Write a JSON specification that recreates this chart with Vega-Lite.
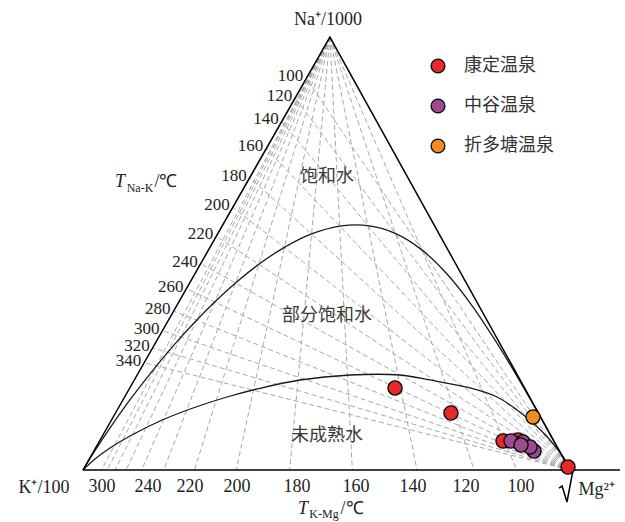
{
  "$schema": "https://vega.github.io/schema/vega-lite/v6.json",
  "width": 625,
  "height": 522,
  "padding": 0,
  "autosize": {"type": "none"},
  "background": "white",
  "config": {"view": {"stroke": null}},
  "datasets": {
    "edges": [
      {"g": "tri", "i": 0, "x": 0, "y": 0},
      {"g": "tri", "i": 1, "x": 50.7, "y": 100},
      {"g": "tri", "i": 2, "x": 100, "y": 0},
      {"g": "base", "i": 0, "x": 0, "y": 0},
      {"g": "base", "i": 1, "x": 110.27, "y": 0},
      {"g": "rad", "i": 0, "x": 97.74, "y": -4.16},
      {"g": "rad", "i": 1, "x": 98.36, "y": -3.7},
      {"g": "rad", "i": 2, "x": 99.38, "y": -7.39},
      {"g": "rad", "i": 3, "x": 100.62, "y": 0}
    ],
    "grid": [
      {"x": 100, "y": 0, "x2": 45.86, "y2": 90.45},
      {"x": 100, "y": 0, "x2": 43.58, "y2": 85.96},
      {"x": 100, "y": 0, "x2": 40.81, "y2": 80.5},
      {"x": 100, "y": 0, "x2": 37.65, "y2": 74.27},
      {"x": 100, "y": 0, "x2": 34.25, "y2": 67.55},
      {"x": 100, "y": 0, "x2": 30.77, "y2": 60.69},
      {"x": 100, "y": 0, "x2": 27.37, "y2": 53.99},
      {"x": 100, "y": 0, "x2": 24.17, "y2": 47.67},
      {"x": 100, "y": 0, "x2": 21.24, "y2": 41.89},
      {"x": 100, "y": 0, "x2": 18.61, "y2": 36.71},
      {"x": 100, "y": 0, "x2": 16.31, "y2": 32.16},
      {"x": 100, "y": 0, "x2": 14.3, "y2": 28.2},
      {"x": 100, "y": 0, "x2": 12.56, "y2": 24.77},
      {"x": 50.7, "y": 100, "x2": 89.08, "y2": 0},
      {"x": 50.7, "y": 100, "x2": 80.32, "y2": 0},
      {"x": 50.7, "y": 100, "x2": 68.58, "y2": 0},
      {"x": 50.7, "y": 100, "x2": 55.3, "y2": 0},
      {"x": 50.7, "y": 100, "x2": 42.43, "y2": 0},
      {"x": 50.7, "y": 100, "x2": 31.46, "y2": 0},
      {"x": 50.7, "y": 100, "x2": 22.89, "y2": 0},
      {"x": 50.7, "y": 100, "x2": 16.58, "y2": 0},
      {"x": 50.7, "y": 100, "x2": 12.05, "y2": 0},
      {"x": 50.7, "y": 100, "x2": 8.85, "y2": 0},
      {"x": 50.7, "y": 100, "x2": 6.59, "y2": 0},
      {"x": 50.7, "y": 100, "x2": 4.97, "y2": 0},
      {"x": 50.7, "y": 100, "x2": 3.8, "y2": 0}
    ],
    "curves": [
      {"g": "full", "i": 0, "x": 0, "y": 0},
      {"g": "full", "i": 1, "x": 2.49, "y": 4.55},
      {"g": "full", "i": 2, "x": 5.7, "y": 9.98},
      {"g": "full", "i": 3, "x": 10.09, "y": 16.87},
      {"g": "full", "i": 4, "x": 15.09, "y": 24.06},
      {"g": "full", "i": 5, "x": 17.39, "y": 27.17},
      {"g": "full", "i": 6, "x": 20.12, "y": 30.69},
      {"g": "full", "i": 7, "x": 23.33, "y": 34.59},
      {"g": "full", "i": 8, "x": 27.05, "y": 38.8},
      {"g": "full", "i": 9, "x": 31.32, "y": 43.19},
      {"g": "full", "i": 10, "x": 36.1, "y": 47.51},
      {"g": "full", "i": 11, "x": 41.35, "y": 51.42},
      {"g": "full", "i": 12, "x": 46.94, "y": 54.52},
      {"g": "full", "i": 13, "x": 52.72, "y": 56.33},
      {"g": "full", "i": 14, "x": 58.48, "y": 56.46},
      {"g": "full", "i": 15, "x": 64.12, "y": 54.66},
      {"g": "full", "i": 16, "x": 69.57, "y": 50.84},
      {"g": "full", "i": 17, "x": 74.75, "y": 45.26},
      {"g": "full", "i": 18, "x": 79.69, "y": 38.27},
      {"g": "full", "i": 19, "x": 84.32, "y": 30.5},
      {"g": "full", "i": 20, "x": 88.59, "y": 22.67},
      {"g": "full", "i": 21, "x": 92.27, "y": 15.52},
      {"g": "full", "i": 22, "x": 96.2, "y": 7.6},
      {"g": "full", "i": 23, "x": 100, "y": 0},
      {"g": "part", "i": 0, "x": 0, "y": 0},
      {"g": "part", "i": 1, "x": 2.46, "y": 2.54},
      {"g": "part", "i": 2, "x": 5.54, "y": 5.08},
      {"g": "part", "i": 3, "x": 9.65, "y": 7.85},
      {"g": "part", "i": 4, "x": 15.81, "y": 11.32},
      {"g": "part", "i": 5, "x": 22.59, "y": 14.32},
      {"g": "part", "i": 6, "x": 29.57, "y": 16.86},
      {"g": "part", "i": 7, "x": 35.73, "y": 18.71},
      {"g": "part", "i": 8, "x": 44.56, "y": 20.79},
      {"g": "part", "i": 9, "x": 54.83, "y": 21.94},
      {"g": "part", "i": 10, "x": 65.09, "y": 21.94},
      {"g": "part", "i": 11, "x": 71.25, "y": 20.79},
      {"g": "part", "i": 12, "x": 79.47, "y": 18.94},
      {"g": "part", "i": 13, "x": 85.01, "y": 16.86},
      {"g": "part", "i": 14, "x": 89.12, "y": 13.86},
      {"g": "part", "i": 15, "x": 92.4, "y": 10.85},
      {"g": "part", "i": 16, "x": 95.89, "y": 6.93},
      {"g": "part", "i": 17, "x": 99.38, "y": 1.62},
      {"g": "part", "i": 18, "x": 100, "y": 0}
    ],
    "points": [
      {"site": "康定温泉", "x": 89.32, "y": 6.93},
      {"site": "康定温泉", "x": 64.07, "y": 18.94},
      {"site": "康定温泉", "x": 75.56, "y": 13.16},
      {"site": "康定温泉", "x": 86.24, "y": 6.7},
      {"site": "康定温泉", "x": 99.59, "y": 0.69},
      {"site": "中谷温泉", "x": 87.89, "y": 6.7},
      {"site": "中谷温泉", "x": 90.35, "y": 6.47},
      {"site": "中谷温泉", "x": 92.61, "y": 4.39},
      {"site": "中谷温泉", "x": 91.79, "y": 5.31},
      {"site": "中谷温泉", "x": 89.94, "y": 5.77},
      {"site": "折多塘温泉", "x": 92.4, "y": 12.24}
    ],
    "leftTicks": [
      {"t": "100", "x": 45.86, "y": 90.45},
      {"t": "120", "x": 43.58, "y": 85.96},
      {"t": "140", "x": 40.81, "y": 80.5},
      {"t": "160", "x": 37.65, "y": 74.27},
      {"t": "180", "x": 34.25, "y": 67.55},
      {"t": "200", "x": 30.77, "y": 60.69},
      {"t": "220", "x": 27.37, "y": 53.99},
      {"t": "240", "x": 24.17, "y": 47.67},
      {"t": "260", "x": 21.24, "y": 41.89},
      {"t": "280", "x": 18.61, "y": 36.71},
      {"t": "300", "x": 16.31, "y": 32.16},
      {"t": "320", "x": 14.3, "y": 28.2},
      {"t": "340", "x": 12.56, "y": 24.77}
    ],
    "bottomTicks": [
      {"t": "300", "x": 3.9, "y": -3.93},
      {"t": "240", "x": 13.35, "y": -3.93},
      {"t": "220", "x": 21.97, "y": -3.93},
      {"t": "200", "x": 31.62, "y": -3.93},
      {"t": "180", "x": 43.94, "y": -3.93},
      {"t": "160", "x": 56.06, "y": -3.93},
      {"t": "140", "x": 67.76, "y": -3.93},
      {"t": "120", "x": 78.64, "y": -3.93},
      {"t": "100", "x": 89.94, "y": -3.93}
    ],
    "corners": [
      {"t": "Na⁺/1000", "x": 50.31, "y": 103.93},
      {"t": "K⁺/100", "x": -8.01, "y": -4.16},
      {"t": "Mg²⁺", "x": 105.5, "y": -4.62}
    ],
    "regions": [
      {"t": "饱和水", "x": 50.1, "y": 67.67},
      {"t": "部分饱和水", "x": 50.1, "y": 35.57},
      {"t": "未成熟水", "x": 50.1, "y": 7.85}
    ],
    "titleT": [
      {"t": "T", "x": 7.6, "y": 66.5},
      {"t": "T", "x": 45.17, "y": -9.01}
    ],
    "titleSub": [
      {"t": "Na-K", "x": 11.7, "y": 65.1},
      {"t": "K-Mg", "x": 49.49, "y": -10.16}
    ],
    "titleUnit": [
      {"t": "/℃", "x": 17.04, "y": 66.5},
      {"t": "/℃", "x": 55.24, "y": -9.01}
    ]
  },
  "encoding": {
    "x": {"field": "x", "type": "quantitative", "scale": {"domain": [-17.04, 111.29], "nice": false, "zero": false}, "axis": null},
    "y": {"field": "y", "type": "quantitative", "scale": {"domain": [-12.01, 108.55], "nice": false, "zero": false}, "axis": null}
  },
  "layer": [
    {
      "data": {"name": "grid"},
      "mark": {"type": "rule", "color": "#a8a8a8", "strokeWidth": 1, "strokeDash": [5, 3]},
      "encoding": {"x2": {"field": "x2"}, "y2": {"field": "y2"}}
    },
    {
      "data": {"name": "curves"},
      "mark": {"type": "line", "color": "#1a1a1a", "strokeWidth": 1.3, "interpolate": "catmull-rom"},
      "encoding": {"detail": {"field": "g"}, "order": {"field": "i"}}
    },
    {
      "data": {"name": "edges"},
      "mark": {"type": "line", "color": "#000000", "strokeWidth": 1.5},
      "encoding": {"detail": {"field": "g"}, "order": {"field": "i"}}
    },
    {
      "data": {"name": "points"},
      "mark": {"type": "circle", "size": 200, "opacity": 1, "stroke": "#000000", "strokeWidth": 1.3},
      "encoding": {
        "color": {
          "field": "site",
          "type": "nominal",
          "scale": {"domain": ["康定温泉", "中谷温泉", "折多塘温泉"], "range": ["#e8282b", "#9e4a91", "#f38b21"]},
          "legend": {
            "title": null,
            "orient": "none",
            "legendX": 429,
            "legendY": 57,
            "padding": 0,
            "symbolType": "circle",
            "symbolSize": 190,
            "symbolStrokeColor": "#000000",
            "symbolStrokeWidth": 1.3,
            "symbolOpacity": 1,
            "labelFont": "Noto Sans CJK SC",
            "labelFontSize": 18,
            "labelColor": "#333333",
            "labelOffset": 17,
            "rowPadding": 20,
            "labelLimit": 200
          }
        }
      }
    },
    {
      "data": {"name": "leftTicks"},
      "mark": {"type": "text", "align": "right", "baseline": "middle", "dx": -3, "dy": -2, "font": "Liberation Serif", "fontSize": 17, "color": "#222222"},
      "encoding": {"text": {"field": "t"}}
    },
    {
      "data": {"name": "bottomTicks"},
      "mark": {"type": "text", "align": "center", "baseline": "middle", "font": "Liberation Serif", "fontSize": 18, "color": "#222222"},
      "encoding": {"text": {"field": "t"}}
    },
    {
      "data": {"name": "corners"},
      "mark": {"type": "text", "align": "center", "baseline": "middle", "font": "Liberation Serif", "fontSize": 18, "color": "#222222"},
      "encoding": {"text": {"field": "t"}}
    },
    {
      "data": {"name": "regions"},
      "mark": {"type": "text", "align": "center", "baseline": "middle", "font": "Noto Sans CJK SC", "fontSize": 18, "color": "#3a3a3a"},
      "encoding": {"text": {"field": "t"}}
    },
    {
      "data": {"name": "titleT"},
      "mark": {"type": "text", "align": "center", "baseline": "middle", "font": "Liberation Serif", "fontStyle": "italic", "fontSize": 18, "color": "#222222"},
      "encoding": {"text": {"field": "t"}}
    },
    {
      "data": {"name": "titleSub"},
      "mark": {"type": "text", "align": "center", "baseline": "middle", "font": "Liberation Serif", "fontSize": 12, "color": "#222222"},
      "encoding": {"text": {"field": "t"}}
    },
    {
      "data": {"name": "titleUnit"},
      "mark": {"type": "text", "align": "center", "baseline": "middle", "font": "Liberation Serif", "fontSize": 18, "color": "#222222"},
      "encoding": {"text": {"field": "t"}}
    }
  ]
}
